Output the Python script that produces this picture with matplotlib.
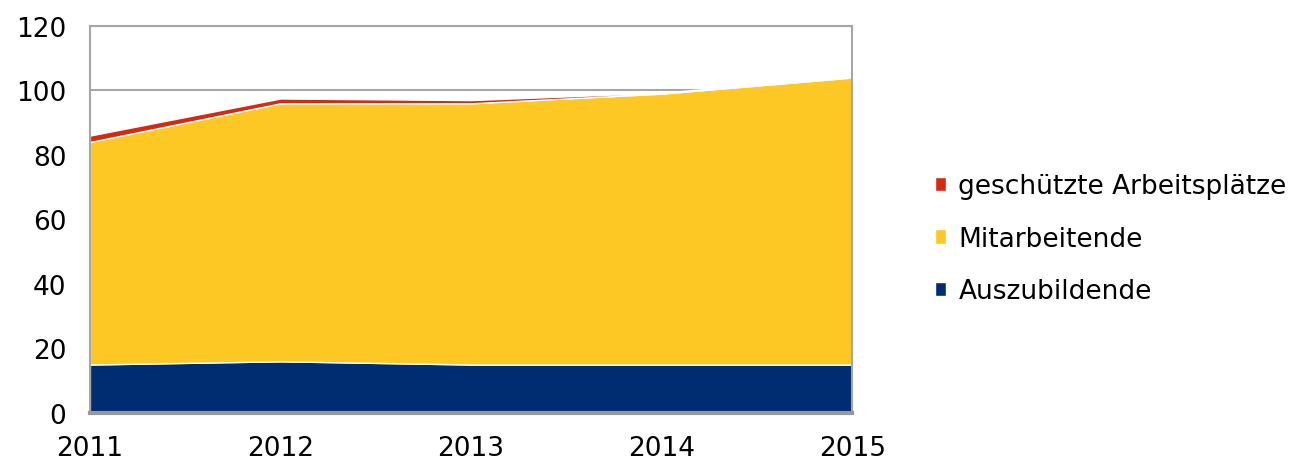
import numpy as np
import matplotlib
matplotlib.use("Agg")
import matplotlib.pyplot as plt

# Data
years = [2011, 2012, 2013, 2014, 2015]
auszubildende = [15, 16, 15, 15, 15]
mitarbeitende = [69, 80, 81, 84, 89]
geschuetzt = [2, 1.5, 1, 0.3, 0.3]

colors = ['#002d72', '#fdc824', '#d42a12']
labels = ['Auszubildende', 'Mitarbeitende', 'geschützte Arbeitsplätze']

fig = plt.figure(figsize=(13.03, 4.64), dpi=100)
ax = fig.add_axes([0.069, 0.108, 0.585, 0.834])

ax.stackplot(years, auszubildende, mitarbeitende, geschuetzt,
             colors=colors, labels=labels, edgecolor='white', linewidth=1.0, zorder=2)

ax.set_xlim(2011, 2015)
ax.set_ylim(0, 120)
ax.set_yticks(np.arange(0, 121, 20))
ax.set_xticks(years)
ax.yaxis.grid(True, color='#a6a6a6', linewidth=1.5, zorder=0)
ax.set_axisbelow(True)

for side in ['left', 'right', 'top']:
    ax.spines[side].set_color('#a6a6a6')
    ax.spines[side].set_linewidth(1.5)
ax.spines['bottom'].set_color('#999999')
ax.spines['bottom'].set_linewidth(3)

ax.tick_params(axis='both', length=0, labelsize=19, colors='black')
ax.tick_params(axis='y', pad=17)
ax.tick_params(axis='x', pad=16)

# Legend in reverse stacking order (top series first)
handles, labs = ax.get_legend_handles_labels()
fig.legend(handles[::-1], labs[::-1], loc='center left', bbox_to_anchor=(0.699, 0.483),
           frameon=False, fontsize=19, handlelength=0.45, handleheight=0.45,
           handletextpad=0.45, labelspacing=1.0)

fig.savefig('out.png', dpi=100)
